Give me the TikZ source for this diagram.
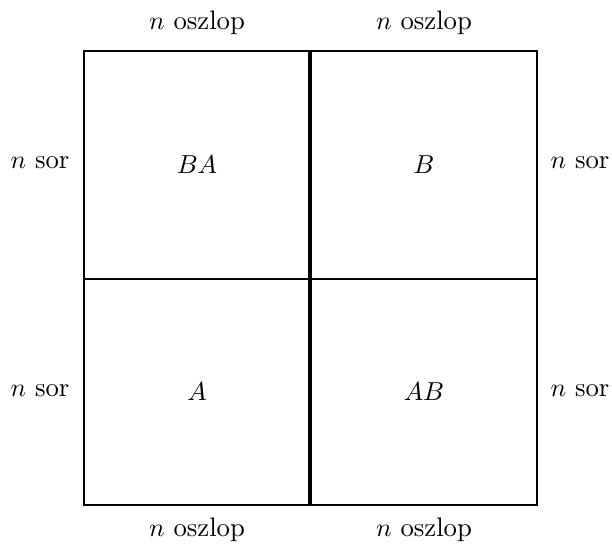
\documentclass[tikz,border=0pt]{standalone}
\begin{document}
\begin{tikzpicture}[x=0.385pt,y=-0.385pt,
  lbl/.style={inner sep=0pt,font=\fontsize{10.3}{12}\selectfont},
  outer/.style={line width=0.6pt},
  vline/.style={line width=1.3pt},
  hline/.style={line width=1.0pt}]
\useasboundingbox (0,0) rectangle (612,545);
\draw[outer] (84,51) rectangle (537,505);
\coordinate (vt) at (310,51);
\coordinate (vb) at (310,505);
\coordinate (hl) at (84,279);
\coordinate (hr) at (537,279);
\draw[hline] (hl) -- (hr);
\draw[vline] (vt) -- (vb);
\node[lbl] (ba) at (197,165) {$BA$};
\node[lbl] (b) at (424,165) {$B$};
\node[lbl] (a) at (197,392) {$A$};
\node[lbl] (ab) at (424,392) {$AB$};
\node[lbl] (t1) at (197,23) {$n$ oszlop};
\node[lbl] (t2) at (424,23) {$n$ oszlop};
\node[lbl] (b1) at (197,530) {$n$ oszlop};
\node[lbl] (b2) at (424,530) {$n$ oszlop};
\node[lbl] (l1) at (40,163) {$n$ sor};
\node[lbl] (l2) at (40,391) {$n$ sor};
\node[lbl] (r1) at (580,163) {$n$ sor};
\node[lbl] (r2) at (580,391) {$n$ sor};
\end{tikzpicture}
\end{document}
